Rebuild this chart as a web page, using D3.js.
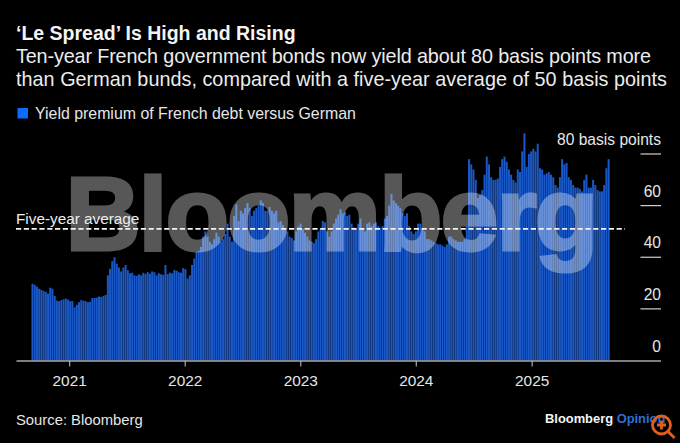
<!DOCTYPE html>
<html><head><meta charset="utf-8">
<script src="https://cdn.jsdelivr.net/npm/d3@7"></script>
<style>html,body{margin:0;background:#000}svg{display:block}text{font-family:"Liberation Sans",Arial,sans-serif}</style>
</head><body><svg id="c" width="680" height="443"></svg>
<script>
const premium = [
29.7,29.3,28.6,27.8,27.4,27,26.6,25.9,28.2,27.8,
25,23.2,23,23.4,23.7,24,23.6,23,23,20.6,
21.6,22.6,23.4,23.2,23,22.6,22.8,24.2,24.2,24.4,
24.8,24.6,25,25.4,33,35.5,38.5,40,37.5,36,
34.5,36,37,35,33.8,34,33,32.8,33.4,33,
34,33.6,34.2,33.6,34.5,34.2,33,33.8,33.4,33.2,
37,33.5,34,33.8,35,34.8,34.2,34,35.8,35.4,
31.8,33,37,39.5,42,42.5,44,48,50,48,
46,45,47,49.5,48,46,47,49,53,
48,46,56,60.5,54,58,57,59,61,59,
56,58,59,60,62,61,58,58,59.5,58,
57,58,53.5,54,52.5,51,50,48,47.5,46.5,
50,52,53,51,49.5,48,46.5,46,45.5,47,
50,51,54,53.5,50,48,50,53,55,56.5,
58.6,57,57.5,56,56.5,53,51.5,51,53,55,
51,50,53,53.5,52,53,53.5,52,51.5,52,
55,56,60,64.5,62,61,60,59,57,56,
57,52,50,49,50,53,53,51,50,47,
47,46.5,46,45.5,45,45,44.5,44,45,48,
48,47,46.5,46,46,46,47,52,78,76,
74,70,63,64,66,72,79,76,71,70,
70,70.5,75,78,79,77,74,72,70,69,
74,73,81,88,75,80,81,82,81,84,
74.5,74,72,72.5,73,72,71,68,67,
71,78,76,76.5,71,70,68,67,67,66.5,
65.5,70,72,67,67,70,68,66,65.5,65.5,
68,74.5,78];
const firstWeek = new Date(Date.UTC(2020,8,4));
const weeks = premium.map((_,i)=>d3.utcDay.offset(firstWeek,i*7));
const yTicks = [0,20,40,60,80];
const yearTicks = [2021,2022,2023,2024,2025];
const average = 51;
const titleText = "‘Le Spread’ Is High and Rising";
const subtitleLines = ["Ten-year French government bonds now yield about 80 basis points more","than German bunds, compared with a five-year average of 50 basis points"];
const legendText = "Yield premium of French debt versus German";

const svg = d3.select("#c");
const x = d3.scaleUtc().domain([new Date(Date.UTC(2020,6,17)),new Date(Date.UTC(2026,1,12))]).range([16,660.5]);
const y = d3.scaleLinear().domain([0,80]).range([360.5,154]);
const barW = 2;

svg.append("g").selectAll("rect").data(premium).join("rect")
  .attr("x",(d,i)=>x(weeks[i])).attr("width",barW)
  .attr("y",d=>y(d)).attr("height",d=>y(0)-y(d)).attr("fill","#1a58c8");

// watermark
svg.append("g").attr("opacity",0.34).append("text").text("Bloomberg").attr("x",65.5).attr("y",249.5)
  .attr("font-size",104).attr("font-weight",700).attr("letter-spacing",-2)
  .attr("fill","#fff").attr("stroke","#fff").attr("stroke-width",3).attr("stroke-linejoin","miter");

// axes
const xAxis = d3.axisBottom(x).tickValues(yearTicks.map(v=>new Date(Date.UTC(v,0,1))))
  .tickFormat(d3.utcFormat("%Y")).tickSize(6).tickSizeOuter(0).tickPadding(9);
const gx = svg.append("g").attr("transform",`translate(0,${y(0)})`).call(xAxis);
gx.select(".domain").attr("stroke","#a8a8a8").attr("stroke-width",1.3);
gx.selectAll(".tick line").attr("stroke","#a8a8a8").attr("stroke-width",1.2);
gx.selectAll("text").attr("fill","#e6e6e6").attr("font-size",15.4).style("font-family",'"Liberation Sans"');

const gy = svg.append("g");
const yt = gy.selectAll("g").data(yTicks).join("g").attr("transform",d=>`translate(0,${y(d)})`);
yt.filter(d=>d>0).append("line").attr("x1",640.5).attr("x2",661).attr("stroke","#cfcfcf").attr("stroke-width",1.2);
yt.append("text").attr("x",661).attr("y",-9).attr("text-anchor","end").attr("fill","#e6e6e6")
  .attr("font-size",15.6).text(d=>d===80?"80 basis points":d);

// average line
svg.append("line").attr("x1",16).attr("x2",625).attr("y1",y(average)).attr("y2",y(average))
  .attr("stroke","#f2f2f2").attr("stroke-width",1.8).attr("stroke-dasharray","5.2,2.6");
svg.append("text").text("Five-year average").attr("x",16).attr("y",y(average)-5)
  .attr("fill","#ececec").attr("font-size",15.3);

// headings
svg.append("text").text(titleText).attr("x",16).attr("y",40).attr("fill","#f4f4f4")
  .attr("font-size",19.5).attr("font-weight",700);
svg.selectAll(".sub").data(subtitleLines).join("text").attr("class","sub").text(d=>d)
  .attr("x",16).attr("y",(d,i)=>63+i*23.3).attr("fill","#ececec").attr("font-size",19.8)
  .attr("textLength",(d,i)=>i?651:635);
svg.append("rect").attr("x",17.5).attr("y",108).attr("width",10.5).attr("height",10.5).attr("fill","#0a6cff");
svg.append("text").text(legendText).attr("x",35).attr("y",118.5).attr("fill","#e6e6e6").attr("font-size",15.9);

// footer
svg.append("text").text("Source: Bloomberg").attr("x",16).attr("y",425).attr("fill","#e6e6e6").attr("font-size",14.8);
const logo = svg.append("text").attr("x",545).attr("y",423).attr("font-size",12.9).attr("font-weight",700);
logo.append("tspan").text("Bloomberg").attr("fill","#f4f4f4");
logo.append("tspan").text(" Opinion").attr("fill","#2b6fd6");
const mag = svg.append("g").attr("fill","none").attr("stroke","#e0601c").attr("stroke-width",2.8);
mag.append("circle").attr("cx",661.5).attr("cy",425).attr("r",9);
mag.append("path").attr("d","M668 431.5L674.5 438");
mag.append("path").attr("d","M657 425H666M661.5 420.5V429.5");
</script></body></html>
